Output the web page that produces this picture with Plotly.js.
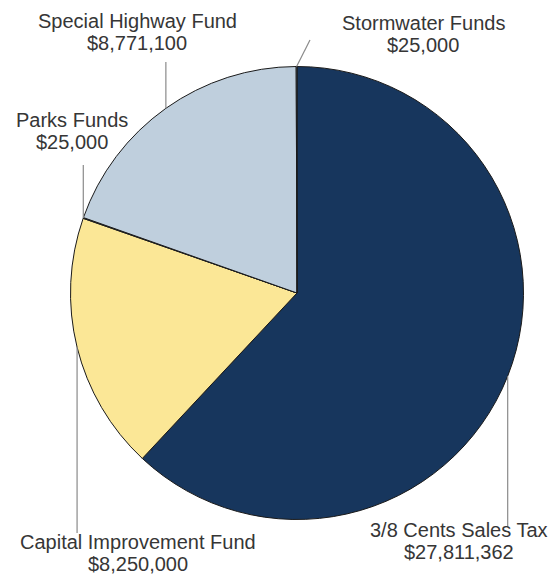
<!DOCTYPE html>
<html>
<head>
<meta charset="utf-8">
<script src="https://cdn.plot.ly/plotly-3.0.1.min.js"></script>
<style>html,body{margin:0;padding:0;background:#fff;}#chart{width:553px;height:575px;}</style>
</head>
<body>
<div id="chart"></div>
<script>
// ---- data ----
const categories = ["3/8 Cents Sales Tax", "Capital Improvement Fund", "Parks Funds", "Special Highway Fund", "Stormwater Funds"];
const values = [27811362, 8250000, 25000, 8771100, 25000];
const valueLabels = ["$27,811,362", "$8,250,000", "$25,000", "$8,771,100", "$25,000"];

// ---- styles / layout constants ----
const colors = ["#17365d", "#fbe796", "#bfcfdd", "#bfcfdd", "#bfcfdd"];
const W = 553, H = 575;
const CX = 297, CY = 293, R = 226.5;
// label text centre (x, y of first line) and leader end point, in pixels
const labelPos = [
  {x: 459, y: 530, endX: null, endY: 527},
  {x: 138, y: 542, endX: null, endY: 533},
  {x: 72,  y: 120, endX: null, endY: 165},
  {x: 137, y: 21,  endX: null, endY: 62},
  {x: 423, y: 23,  endX: 310,  endY: 40}
];
const lineGap = 22;
const fontSize = 20;
const textColor = "#363636";

const px = x => x / W;
const py = y => 1 - y / H;

const total = values.reduce((a, b) => a + b, 0);
const shapes = [];
const annotations = [];
let cum = 0;
values.forEach((v, i) => {
  const theta = 2 * Math.PI * (cum + v / 2) / total;
  cum += v;
  const sx = CX + R * Math.sin(theta);
  const sy = CY - R * Math.cos(theta);
  const p = labelPos[i];
  const ex = p.endX === null ? sx : p.endX;
  shapes.push({type: "line", xref: "paper", yref: "paper",
    x0: px(sx), y0: py(sy), x1: px(ex), y1: py(p.endY),
    line: {color: "#8a8a8a", width: 1.2}});
  [categories[i], valueLabels[i]].forEach((t, k) => {
    annotations.push({xref: "paper", yref: "paper", x: px(p.x), y: py(p.y + k * lineGap),
      xanchor: "center", yanchor: "middle", showarrow: false, text: t,
      font: {family: "Liberation Sans, Arial, sans-serif", size: fontSize, color: textColor}});
  });
});

const trace = {
  type: "pie",
  labels: categories,
  values: values,
  sort: false,
  direction: "clockwise",
  rotation: 0,
  textinfo: "none",
  hoverinfo: "label+value",
  marker: {colors: colors, line: {color: "#1a1a1a", width: 1}},
  domain: {x: [px(CX - R), px(CX + R)], y: [py(CY + R), py(CY - R)]},
  showlegend: false
};

Plotly.newPlot("chart", [trace], {
  width: W, height: H,
  margin: {l: 0, r: 0, t: 0, b: 0},
  paper_bgcolor: "#ffffff",
  showlegend: false,
  shapes: shapes,
  annotations: annotations
}, {displayModeBar: false, staticPlot: true});
</script>
</body>
</html>
